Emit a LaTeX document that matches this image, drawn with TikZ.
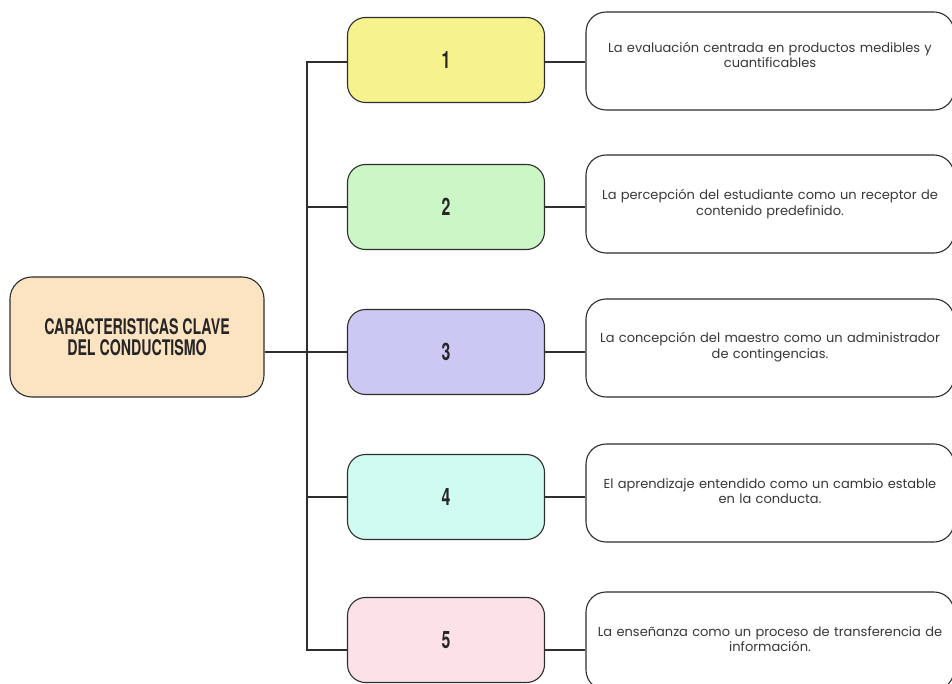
\documentclass[tikz,border=0pt]{standalone}
\usepackage{fontspec}
\setmainfont{Poppins}
\newfontfamily\headfont{TeX Gyre Heros}
\definecolor{cOrange}{HTML}{FCE3C2}
\definecolor{cYellow}{HTML}{F6F38E}
\definecolor{cGreen}{HTML}{CBF6C6}
\definecolor{cPurple}{HTML}{CBC8F4}
\definecolor{cCyan}{HTML}{CFFBF1}
\definecolor{cPink}{HTML}{FCE1E9}
\definecolor{lineC}{HTML}{2E2E2E}
\tikzset{
  numbox/.style={draw=lineC, line width=1.1pt, rounded corners=18pt, minimum width=197pt, minimum height=85pt},
  txtbox/.style={draw=lineC, line width=1.1pt, rounded corners=20pt, minimum width=368pt, minimum height=98pt, fill=white},
  txtlbl/.style={text width=364pt, align=center, font=\fontsize{13}{15.5}\selectfont, text=black!78},
  numlbl/.style={font=\headfont\bfseries\fontsize{24}{24}\selectfont, text=black!85},
  conn/.style={draw=lineC, line width=1.1pt}
}
\newcommand{\cond}[1]{\scalebox{0.66}[1]{#1}}
\begin{document}
\begin{tikzpicture}[x=1pt,y=-1pt]
\useasboundingbox (0,0) rectangle (952,684);
\fill[white] (0,0) rectangle (952,684);
% center
\node[draw=lineC, line width=1.1pt, rounded corners=22pt, fill=cOrange, minimum width=254pt, minimum height=120pt,
  align=center, font=\headfont\bfseries\fontsize{21.5}{24}\selectfont, text=black!85] (center) at (137,337)
  {\cond{CARACTERISTICAS CLAVE}\\[-3pt]\cond{DEL CONDUCTISMO}};
% number boxes
\node[numbox, fill=cYellow] (b1) at (446,60) {};
\node[numbox, fill=cGreen]  (b2) at (446,207) {};
\node[numbox, fill=cPurple] (b3) at (446,352) {};
\node[numbox, fill=cCyan]   (b4) at (446,497) {};
\node[numbox, fill=cPink]   (b5) at (446,640) {};
\node[numlbl] (n1) at (b1.center) {\cond{1}};
\node[numlbl] (n2) at (b2.center) {\cond{2}};
\node[numlbl] (n3) at (b3.center) {\cond{3}};
\node[numlbl] (n4) at (b4.center) {\cond{4}};
\node[numlbl] (n5) at (b5.center) {\cond{5}};
% text boxes
\node[txtbox] (t1) at (770,61) {};
\node[txtbox] (t2) at (770,204) {};
\node[txtbox] (t3) at (770,348) {};
\node[txtbox] (t4) at (770,493) {};
\node[txtbox] (t5) at (770,641) {};
\node[txtlbl] (l1) at ([yshift=6pt]t1.center) {La evaluación centrada en productos medibles y\\cuantificables};
\node[txtlbl] (l2) at ([yshift=0pt]t2.center) {La percepción del estudiante como un receptor de\\contenido predefinido.};
\node[txtlbl] (l3) at ([yshift=1pt]t3.center) {La concepción del maestro como un administrador\\de contingencias.};
\node[txtlbl] (l4) at ([yshift=2pt]t4.center) {El aprendizaje entendido como un cambio estable\\en la conducta.};
\node[txtlbl] (l5) at ([yshift=2pt]t5.center) {La enseñanza como un proceso de transferencia de\\información.};
% trunk
\coordinate (tr) at (307,0);
\draw[conn] ([yshift=-2pt]b1.west) -- ([yshift=-2pt]b1.west -| tr) -- ([yshift=-10pt]b5.west -| tr) -- ([yshift=-10pt]b5.west);
\draw[conn] (b2.west -| tr) -- (b2.west);
\draw[conn] (b4.west -| tr) -- (b4.west);
\draw[conn] (center.east |- b3.west) -- (b3.west);
% right connectors
\draw[conn] ([yshift=-2pt]b1.east) -- ([yshift=-2pt]b1.east -| t1.west);
\draw[conn] (b2.east) -- (b2.east -| t2.west);
\draw[conn] (b3.east) -- (b3.east -| t3.west);
\draw[conn] (b4.east) -- (b4.east -| t4.west);
\draw[conn] ([yshift=-10pt]b5.east) -- ([yshift=-10pt]b5.east -| t5.west);
\end{tikzpicture}
\end{document}
